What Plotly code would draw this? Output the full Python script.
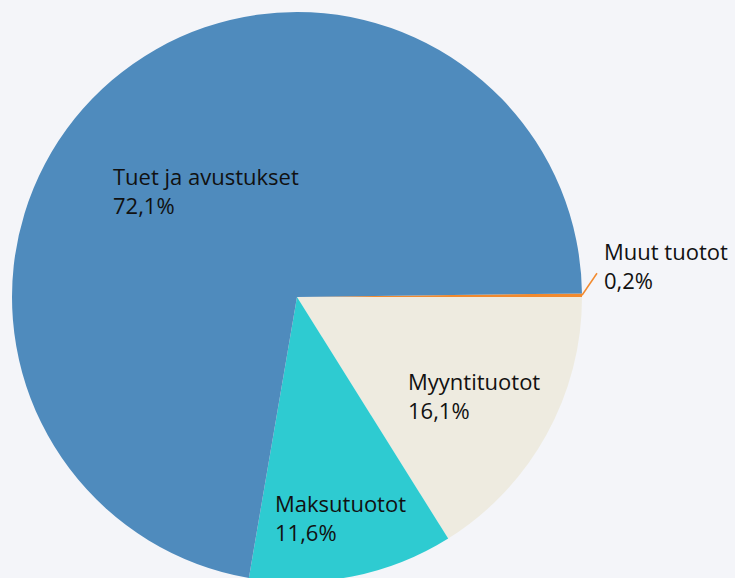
import math
import plotly.graph_objects as go

labels = ["Muut tuotot", "Myyntituotot", "Maksutuotot", "Tuet ja avustukset"]
values = [0.2, 16.1, 11.6, 72.1]
colors = ["#f28a2e", "#eeebe0", "#2ecbd1", "#4f8bbd"]

# label placement (fraction of pie radius) for inside labels
label_radius = {"Myyntituotot": 0.71, "Maksutuotot": 0.79, "Tuet ja avustukset": 0.49}

total = sum(values)
rotation = 90 - values[0] / total * 360

fig = go.Figure(go.Pie(
    labels=labels,
    values=values,
    sort=False,
    direction="clockwise",
    rotation=rotation,
    marker=dict(colors=colors, line=dict(width=0)),
    textinfo="none",
    hoverinfo="label+percent",
    showlegend=False,
))

PLOT = 570.0  # pixel size of pie domain
font = dict(family="Open Sans", size=22, color="#111111")


def fmt_pct(v):
    return f"{v / total * 100:.1f}".replace(".", ",") + "%"


cum = 0.0
for lab, v, col in zip(labels, values, colors):
    theta = math.radians(rotation + 360 * (cum + v / 2) / total)
    cum += v
    dx, dy = math.sin(theta), math.cos(theta)
    txt = f"{lab}<br>{fmt_pct(v)}"
    if lab in label_radius:
        r = label_radius[lab]
        fig.add_annotation(
            x=0.5 + 0.5 * r * dx, y=0.5 + 0.5 * r * dy,
            xref="paper", yref="paper", text=txt, showarrow=False,
            xanchor="center", yanchor="middle", align="left", font=font,
        )
    else:
        x0, y0 = 0.5 + 0.5 * dx, 0.5 + 0.5 * dy
        x1, y1 = x0 + 15 / PLOT, y0 + 22 / PLOT
        fig.add_shape(type="line", x0=x0, y0=y0, x1=x1, y1=y1,
                      xref="paper", yref="paper",
                      line=dict(color=col, width=1.5))
        fig.add_annotation(
            x=x1 + 5 / PLOT, y=y1, xref="paper", yref="paper", text=txt,
            showarrow=False, xanchor="left", yanchor="middle", align="left",
            yshift=8, font=font,
        )

fig.update_layout(
    width=735,
    height=594,
    margin=dict(l=12, r=153, t=12, b=12),
    paper_bgcolor="#f4f5f9",
    plot_bgcolor="#f4f5f9",
    separators=", ",
    font=font,
)

fig.write_html("out.html", config={"displayModeBar": False},
               post_script="document.body.style.margin='0';")
